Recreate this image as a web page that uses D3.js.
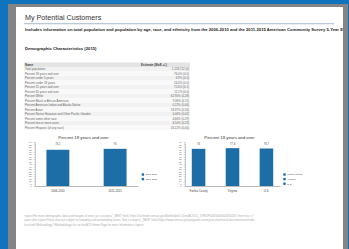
<!DOCTYPE html>
<html>
<head>
<meta charset="utf-8">
<script src="https://cdn.jsdelivr.net/npm/d3@7"></script>
<style>
  html, body { margin: 0; padding: 0; background: #0f74bd; }
  svg { display: block; font-family: "Liberation Sans", Arial, sans-serif; }
</style>
</head>
<body>
<div id="page"></div>
<script>
// table data
var rowNames = [
  "Total population",
  "Percent 18 years and over",
  "Percent under 5 years",
  "Percent under 18 years",
  "Percent 21 years and over",
  "Percent 65 years and over",
  "Percent White",
  "Percent Black or African American",
  "Percent American Indian and Alaska Native",
  "Percent Asian",
  "Percent Native Hawaiian and Other Pacific Islander",
  "Percent some other race",
  "Percent two or more races",
  "Percent Hispanic (of any race)"
];
var rowValues = [
  "1,128,722 (0)", "76.0% (0.0)", "6.9% (0.0)", "24.0% (0.0)", "72.6% (0.1)",
  "11.1% (0.0)", "62.90% (0.28)", "9.36% (0.11)", "0.22% (0.06)", "18.37% (0.16)",
  "0.06% (0.02)", "4.66% (0.29)", "4.50% (0.23)", "16.12% (0.00)"
];

// chart data
var periods = ["2006-2010", "2011-2015"];
var periodValues = [74.1, 76];
var areas = ["Fairfax County", "Virginia", "U.S."];
var areaValues = [76, 77.4, 76.7];
var yTicks = [0, 5, 10, 15, 20, 25, 30, 35, 40, 45, 50, 55, 60, 65, 70, 75, 80, 85, 90];

var footerLines = [
  "<span>For more demographic data and margins of error, go <a target=\"_NEW\" href=\"https://factfinder.census.gov/bkmk/table/1.0/en/ACS/15_5YR/DP05/0500000US51059\">here</a>.</",
  "span><br><span>These data are subject to sampling and nonsampling errors. See <a target=\"_NEW\" href=\"https://www.census.gov/programs-surveys/acs/technical-documentation/code-",
  "lists.html#Methodology\">Methodology</a> on the ACS Home Page for more information.</span>"
];

var width = 349, height = 249;
var barColor = "#1d6ea6";

var svg = d3.select("#page").append("svg")
  .attr("width", width)
  .attr("height", height);

// frame
svg.append("rect").attr("width", width).attr("height", height).attr("fill", "#0f74bd");
svg.append("rect").attr("x", 8).attr("y", 4).attr("width", 340).attr("height", 245).attr("fill", "#848484");
svg.append("rect").attr("x", 16).attr("y", 7).attr("width", 327).attr("height", 242).attr("fill", "#ffffff");

var clip = svg.append("clipPath").attr("id", "panel");
clip.append("rect").attr("x", 16).attr("y", 7).attr("width", 327).attr("height", 242);
var panel = svg.append("g").attr("clip-path", "url(#panel)");

// header
panel.append("text").attr("x", 25).attr("y", 19.5)
  .attr("font-size", 7.2).attr("fill", "#333")
  .text("My Potential Customers");
panel.append("rect").attr("x", 24).attr("y", 23).attr("width", 310).attr("height", 1.3).attr("fill", "#b9c9d9");
panel.append("text").attr("x", 25).attr("y", 31)
  .attr("font-size", 4.2).attr("font-weight", "bold").attr("fill", "#222")
  .text("Includes information on total population and population by age, race, and ethnicity from the 2006-2010 and the 2011-2015 American Community Survey 5-Year Estimates");
panel.append("text").attr("x", 25).attr("y", 49.5)
  .attr("font-size", 4.2).attr("font-weight", "bold").attr("fill", "#222")
  .text("Demographic Characteristics (2015)");

// table
var rowH = 4.5, tableTop = 62.5, tableX0 = 24, tableX1 = 190;
var table = panel.append("g");
table.append("rect").attr("x", tableX0).attr("y", tableTop)
  .attr("width", tableX1 - tableX0).attr("height", rowH)
  .attr("fill", "#e4e4e4");
table.append("text").attr("x", 25).attr("y", tableTop + 3.2)
  .attr("font-size", 3).attr("font-weight", "bold").attr("fill", "#444").text("Name");
table.append("text").attr("x", 141).attr("y", tableTop + 3.2)
  .attr("font-size", 3).attr("font-weight", "bold").attr("fill", "#444").text("Estimate (MoE +/-)");

var rows = table.selectAll("g.row")
  .data(rowNames)
  .enter()
  .append("g")
  .attr("class", "row")
  .attr("transform", function (d, i) {
    return "translate(0," + (tableTop + rowH * (i + 1)) + ")";
  });
rows.append("rect")
  .attr("x", tableX0).attr("width", tableX1 - tableX0).attr("height", rowH)
  .attr("fill", function (d, i) { return i % 2 ? "#f9f9f9" : "#f2f2f2"; });
rows.append("text")
  .attr("x", 25).attr("y", 3.2)
  .attr("font-size", 2.9).attr("fill", "#666")
  .text(function (d) { return d; });
rows.append("text")
  .attr("x", 189).attr("y", 3.2)
  .attr("font-size", 2.9).attr("fill", "#666")
  .attr("text-anchor", "end")
  .text(function (d, i) { return rowValues[i]; });

// bar charts
var y = d3.scaleLinear().domain([0, 90]).range([186, 142]);

function drawChart(cats, vals, x0, x1, padOuter, title, legendX) {
  var g = panel.append("g");
  var x = d3.scaleBand().domain(cats).range([x0, x1]).paddingInner(0.6).paddingOuter(padOuter);

  g.append("text").attr("x", (x0 + x1) / 2 - 3).attr("y", 138.5)
    .attr("text-anchor", "middle").attr("font-size", 4.3).attr("fill", "#333")
    .text(title);

  var yAxis = g.append("g")
    .attr("transform", "translate(" + x0 + ",0)")
    .call(d3.axisLeft(y).tickValues(yTicks).tickSize(1.2).tickSizeOuter(0));
  yAxis.selectAll("text").attr("font-size", 2.3).attr("fill", "#555").attr("dx", "0.3em");
  yAxis.selectAll("line, path").attr("stroke", "#777").attr("stroke-width", 0.4);
  yAxis.attr("font-family", null);

  g.selectAll("rect.bar")
    .data(vals)
    .enter()
    .append("rect")
    .attr("class", "bar")
    .attr("x", function (d, i) { return x(cats[i]); })
    .attr("y", function (d) { return y(d); })
    .attr("width", x.bandwidth())
    .attr("height", function (d) { return y(0) - y(d); })
    .attr("fill", barColor);

  g.selectAll("text.val")
    .data(vals)
    .enter()
    .append("text")
    .attr("class", "val")
    .attr("x", function (d, i) { return x(cats[i]) + x.bandwidth() / 2; })
    .attr("y", y(90) + 2.5)
    .attr("text-anchor", "middle").attr("font-size", 2.8).attr("fill", "#555")
    .text(function (d) { return d; });

  var xAxis = g.append("g")
    .attr("transform", "translate(0," + y(0) + ")")
    .call(d3.axisBottom(x).tickSize(0).tickSizeOuter(0));
  xAxis.selectAll("text").attr("font-size", 2.8).attr("fill", "#444").attr("dy", "0.9em");
  xAxis.select("path").attr("stroke", "#777").attr("stroke-width", 0.5);
  xAxis.attr("font-family", null);

  var legend = g.selectAll("g.legend")
    .data(cats)
    .enter()
    .append("g")
    .attr("class", "legend")
    .attr("transform", function (d, i) {
      return "translate(" + legendX + "," + (173.3 + i * 4.6) + ")";
    });
  legend.append("rect").attr("width", 2.4).attr("height", 2.4).attr("fill", barColor);
  legend.append("text").attr("x", 4).attr("y", 2.1)
    .attr("font-size", 2.4).attr("fill", "#444")
    .text(function (d) { return d; });
}

drawChart(periods, periodValues, 35, 138, 0.2, "Percent 18 years and over", 141.7);
drawChart(areas, areaValues, 185, 280, 0.2, "Percent 18 years and over", 283.3);

// footer
panel.selectAll("text.foot")
  .data(footerLines)
  .enter()
  .append("text")
  .attr("class", "foot")
  .attr("x", 24)
  .attr("y", function (d, i) { return 217 + i * 4.4; })
  .attr("font-size", 2.8).attr("fill", "#aaa")
  .text(function (d) { return d; });
</script>
</body>
</html>
